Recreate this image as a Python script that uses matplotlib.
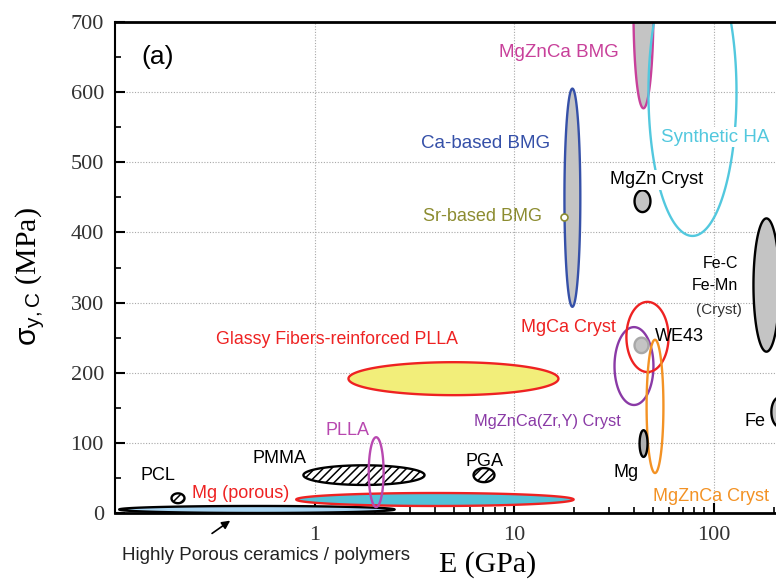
import numpy as np
import matplotlib
matplotlib.use('Agg')
import matplotlib.pyplot as plt
from matplotlib.ticker import FixedLocator, NullFormatter

plt.rcParams['font.family'] = ['Liberation Sans', 'DejaVu Sans']
plt.rcParams['mathtext.fontset'] = 'custom'
plt.rcParams['mathtext.rm'] = 'Liberation Sans'
plt.rcParams['mathtext.it'] = 'Liberation Sans'
plt.rcParams['hatch.linewidth'] = 1.1

# material regions: E range (GPa) and yield strength range (MPa)
names = ['Highly porous', 'PCL', 'Mg (porous)', 'PMMA', 'PLLA', 'Glassy PLLA', 'PGA',
         'Ca BMG', 'MgZnCa BMG', 'Synthetic HA', 'MgZn Cryst', 'Fe-C/Fe-Mn', 'Fe',
         'MgZnCa(Zr,Y) Cryst', 'MgCa Cryst', 'WE43', 'MgZnCa Cryst', 'Mg']
e_lo = [0.105, 0.192, 0.81, 0.88, 1.87, 1.48, 6.27,
        17.9, 39.7, 47.2, 40.2, 158.6, 195, 31.9, 36.6, 40.2, 46.2, 42.6]
e_hi = [2.52, 0.223, 19.9, 3.56, 2.22, 16.7, 7.98,
        21.5, 50.0, 130.4, 48.3, 214, 235, 50.0, 59.5, 47.2, 56.1, 46.7]
s_lo = [0, 14, 10, 40, 8.5, 168, 44,
        294, 577, 395, 429, 230, 123, 154, 201, 228, 57, 80]
s_hi = [10, 28, 28.5, 68, 108, 215, 64,
        605, 860, 805, 460, 420, 165, 265, 301, 250, 247, 118]

# styles per region (face, edge, hatch)
faces = ['#a9d5f2', 'white', '#52c2d8', 'white', 'none', '#f2ee7a', 'white',
         '#c4c4c4', '#c4c4c4', 'none', '#c4c4c4', '#c4c4c4', '#c4c4c4',
         'none', 'none', '#c4c4c4', 'none', '#b0b0b0']
edges = ['black', 'black', '#ee2222', 'black', '#b848b0', '#ee2222', 'black',
         '#3550a8', '#c8409a', '#52c8de', 'black', 'black', 'black',
         '#8a3aa6', '#ee2222', '#a8a8a8', '#f39224', 'black']
hatches = [None, '////', None, '////', None, None, '////',
           None, None, None, None, None, None, None, None, None, None, None]

sr_bmg_e = [17.9]
sr_bmg_s = [422]

labels = [
    ('MgZnCa BMG', 16.7, 656, '#c8409a', 'center', 13.5, False),
    ('Ca-based BMG', 7.24, 527, '#3550a8', 'center', 13.5, False),
    ('Synthetic HA', 102.3, 536, '#52c8de', 'center', 13.5, True),
    ('MgZn Cryst', 51.8, 475, 'black', 'center', 13, True),
    ('Sr-based BMG', 6.95, 423, '#8c8c30', 'center', 13, False),
    ('Fe-C', 133.4, 356, 'black', 'right', 11.5, False),
    ('Fe-Mn', 133.4, 324, 'black', 'right', 11.5, False),
    ('(Cryst)', 138, 289, '#333333', 'right', 11, False),
    ('MgCa Cryst', 18.8, 264, '#ee2222', 'center', 13, False),
    ('WE43', 50.6, 251, 'black', 'left', 13, False),
    ('Glassy Fibers-reinforced PLLA', 1.30, 247, '#ee2222', 'center', 12.8, False),
    ('MgZnCa(Zr,Y) Cryst', 14.7, 130, '#8a3aa6', 'center', 11.8, False),
    ('Fe', 143, 130, 'black', 'left', 13, False),
    ('PLLA', 1.46, 118, '#b848b0', 'center', 13, False),
    ('PMMA', 0.668, 77, 'black', 'center', 13, False),
    ('PGA', 7.11, 73, 'black', 'center', 13, False),
    ('PCL', 0.165, 53, 'black', 'center', 13, False),
    ('Mg', 36.6, 58, 'black', 'center', 13, False),
    ('Mg (porous)', 0.426, 28, '#ee2222', 'center', 13, False),
    ('MgZnCa Cryst', 50.0, 23, '#f39224', 'left', 13, False),
]


def draw_region(ax, elo, ehi, slo, shi, face, edge, hatch, z):
    # ellipse in (log10 E, sigma) space
    t = np.linspace(0, 2 * np.pi, 240)
    lc = (np.log10(elo) + np.log10(ehi)) / 2
    lw_ = (np.log10(ehi) - np.log10(elo)) / 2
    sc = (slo + shi) / 2
    sh = (shi - slo) / 2
    x = 10 ** (lc + lw_ * np.cos(t))
    y = sc + sh * np.sin(t)
    ax.fill(x, y, facecolor=face, edgecolor=edge, linewidth=1.7, hatch=hatch, zorder=z)


fig = plt.figure(figsize=(7.76, 5.8), dpi=100)
ax = fig.add_axes([115 / 776, 67 / 580, 798 / 776, 491 / 580])
ax.set_xscale('log')
ax.set_xlim(0.1, 1000)
ax.set_ylim(0, 700)

ax.xaxis.set_major_locator(FixedLocator([1, 10, 100]))
ax.xaxis.set_minor_locator(FixedLocator([m * d for d in [0.1, 1, 10, 100] for m in range(2, 10)]))
ax.xaxis.set_minor_formatter(NullFormatter())
ax.set_xticklabels(['1', '10', '100'])
ax.set_yticks(np.arange(0, 701, 100))
ax.set_yticks(np.arange(50, 700, 100), minor=True)

for lab in ax.get_xticklabels() + ax.get_yticklabels():
    lab.set_family('Liberation Serif')
    lab.set_fontsize(16)
    lab.set_color('#333333')

ax.tick_params(which='major', direction='in', length=7, width=1.5, top=False, right=False)
ax.tick_params(which='minor', direction='in', length=4, width=1.2, top=False, right=False)
ax.tick_params(axis='y', pad=8)
ax.tick_params(axis='x', pad=9)

ax.spines['left'].set_linewidth(1.5)
ax.spines['bottom'].set_linewidth(2)
ax.spines['top'].set_linewidth(2)
ax.spines['right'].set_visible(False)

ax.grid(True, which='major', linestyle=(0, (1, 1.5)), color='#a8a8a8', linewidth=0.8)
ax.set_axisbelow(True)

for i in range(len(names)):
    draw_region(ax, e_lo[i], e_hi[i], s_lo[i], s_hi[i], faces[i], edges[i], hatches[i], 2 + i * 0.01)

ax.plot(sr_bmg_e, sr_bmg_s, 'o', markersize=5, markerfacecolor='white',
        markeredgecolor='#8c8c30', markeredgewidth=1.2, zorder=4)

for txt, ex, sy, col, ha, fs, boxed in labels:
    kw = {}
    if boxed:
        kw['bbox'] = dict(facecolor='white', edgecolor='none', pad=1)
    ax.text(ex, sy, txt, color=col, ha=ha, va='center', fontsize=fs, zorder=5, **kw)

ax.text(0.136, 650, '(a)', fontsize=19, ha='left', va='center', zorder=5)

ax.annotate('', xy=(0.388, -8.6), xytext=(0.2986, -31.4),
            arrowprops=dict(arrowstyle='-|>', color='black', lw=1.2, mutation_scale=12),
            annotation_clip=False)
ax.text(0.108, -60, 'Highly Porous ceramics / polymers', fontsize=13.5,
        ha='left', va='center', color='#222222')

fig.text(488 / 776, 1 - 565 / 580, 'E (GPa)', family='Liberation Serif', fontsize=21.5,
         ha='center', va='center')
fig.text(30 / 776, 1 - 277 / 580, r'$\mathrm{\sigma_{y,C}}$ (MPa)', family='Liberation Serif',
         fontsize=21.5, rotation=90, ha='center', va='center')

fig.savefig('out.png', dpi=100)
